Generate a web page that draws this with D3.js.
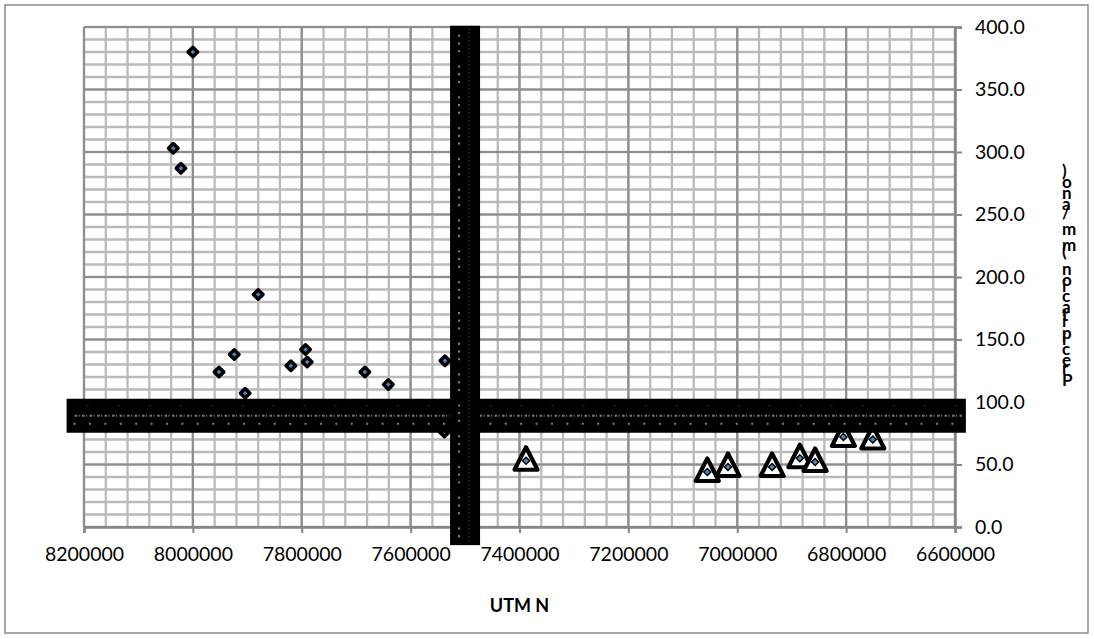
<!DOCTYPE html>
<html>
<head>
<meta charset="utf-8">
<script src="https://cdn.jsdelivr.net/npm/d3@7/dist/d3.min.js"></script>
<style>
  html, body { margin: 0; padding: 0; background: #fff; }
  svg { display: block; font-family: Lato, "Open Sans", "Liberation Sans", sans-serif; }
</style>
</head>
<body>
<svg id="chart" width="1094" height="639"></svg>
<script>
// Stations plotted as diamonds: UTM northing and precipitation (mm/year)
const diamondUTM    = [8000000, 8036000, 8022000, 7880000, 7924000, 7952000, 7904000, 7820000, 7793000, 7790000, 7684000, 7641000, 7537000, 7538000];
const diamondPrecip = [380, 303, 287, 186, 138, 124, 107, 129, 142, 132, 124, 114, 133, 76];

// Stations plotted as triangles
const triangleUTM    = [7388000, 7055000, 7017000, 6936000, 6885000, 6857000, 6805000, 6751000];
const trianglePrecip = [53, 44, 48, 48, 55, 52, 72, 70];

// Reference lines (northing divide and precipitation threshold)
const refUTM = 7500000;
const refPrecip = 89;

// Axis ticks
const xTicks = [8200000, 8000000, 7800000, 7600000, 7400000, 7200000, 7000000, 6800000, 6600000];
const yTicks = [0, 50, 100, 150, 200, 250, 300, 350, 400];

const xTitle = "UTM N";
const yTitle = "Precipitacion (mm/ano)";

const svg = d3.select("#chart");

// outer chart frame
svg.append("rect")
  .attr("x", 5).attr("y", 5).attr("width", 1083).attr("height", 628)
  .attr("fill", "#fff").attr("stroke", "#8a8a8a").attr("stroke-width", 1.5);

const x = d3.scaleLinear().domain([8200000, 6600000]).range([84, 955]);
const y = d3.scaleLinear().domain([0, 400]).range([527, 27]);

// minor grid
const minorX = d3.range(6600000, 8200001, 40000);
const minorY = d3.range(0, 401, 10);
const grid = svg.append("g");
grid.selectAll("line.mx").data(minorX).join("line")
  .attr("x1", d => x(d)).attr("x2", d => x(d)).attr("y1", y(400)).attr("y2", y(0))
  .attr("stroke", "#bababa").attr("stroke-width", 2.3);
grid.selectAll("line.my").data(minorY).join("line")
  .attr("y1", d => y(d)).attr("y2", d => y(d)).attr("x1", x(8200000)).attr("x2", x(6600000))
  .attr("stroke", "#bababa").attr("stroke-width", 2.3);
// major grid
grid.selectAll("line.Mx").data(xTicks).join("line")
  .attr("x1", d => x(d)).attr("x2", d => x(d)).attr("y1", y(400)).attr("y2", y(0))
  .attr("stroke", "#8e8e8e").attr("stroke-width", 2.2);
grid.selectAll("line.My").data(yTicks).join("line")
  .attr("y1", d => y(d)).attr("y2", d => y(d)).attr("x1", x(8200000)).attr("x2", x(6600000))
  .attr("stroke", "#8e8e8e").attr("stroke-width", 2.2);

// bottom axis
const xAxis = d3.axisBottom(x).tickValues(xTicks).tickSize(6).tickPadding(14)
  .tickFormat(d3.format("d"));
const gx = svg.append("g").attr("transform", `translate(0,${y(0)})`).call(xAxis);
gx.select(".domain").attr("stroke", "#868686").attr("stroke-width", 2.5);
gx.selectAll(".tick line").attr("stroke", "#868686").attr("stroke-width", 2);
gx.selectAll(".tick text").attr("font-size", 19.5).attr("fill", "#000")
  .attr("font-family", "Lato, sans-serif");

// right axis
const yAxis = d3.axisRight(y).tickValues(yTicks).tickSize(7).tickPadding(13)
  .tickFormat(d3.format(".1f"));
const gy = svg.append("g").attr("transform", `translate(${x(6600000)},0)`).call(yAxis);
gy.select(".domain").attr("stroke", "#868686").attr("stroke-width", 2.5);
gy.selectAll(".tick line").attr("stroke", "#868686").attr("stroke-width", 2);
gy.selectAll(".tick text").attr("font-size", 19.5).attr("fill", "#000")
  .attr("font-family", "Lato, sans-serif");

// markers
const diamond = "M0,-4.8L4.8,0L0,4.8L-4.8,0Z";
const triangle = "M0,-13.5L11.5,9L-11.5,9Z";

svg.append("g").selectAll("path").data(diamondUTM).join("path")
  .attr("d", diamond)
  .attr("transform", (d, i) => `translate(${x(d)},${y(diamondPrecip[i])})`)
  .attr("fill", "#4f81bd").attr("stroke", "#000").attr("stroke-width", 3.4)
  .attr("stroke-linejoin", "round");

const tri = svg.append("g").selectAll("g").data(triangleUTM).join("g")
  .attr("transform", (d, i) => `translate(${x(d)},${y(trianglePrecip[i])})`);
tri.append("path").attr("d", triangle)
  .attr("fill", "#fff").attr("stroke", "#000").attr("stroke-width", 4.2)
  .attr("stroke-linejoin", "round");
tri.append("path").attr("d", "M0,-3.6L3.6,0L0,3.6L-3.6,0Z")
  .attr("fill", "#4f81bd").attr("stroke", "#000").attr("stroke-width", 1.4);

// thick reference bars
const bars = svg.append("g");
const hx0 = x(8232000), hx1 = x(6580000), hy = y(refPrecip);
bars.append("rect").attr("x", hx0).attr("y", hy - 17).attr("width", hx1 - hx0).attr("height", 34)
  .attr("fill", "#000");
bars.append("line").attr("x1", hx0 + 8).attr("x2", hx1 - 4).attr("y1", hy).attr("y2", hy)
  .attr("stroke", "#7a7a7a").attr("stroke-width", 2.2).attr("stroke-dasharray", "2.5 1.5 1 2.5");
bars.append("line").attr("x1", hx0 + 8).attr("x2", hx1 - 4).attr("y1", hy + 8).attr("y2", hy + 8)
  .attr("stroke", "#707070").attr("stroke-width", 2.4).attr("stroke-linecap", "round")
  .attr("stroke-dasharray", "0 15.4");
bars.append("line").attr("x1", hx0 + 20).attr("x2", hx1 - 4).attr("y1", hy - 10).attr("y2", hy - 10)
  .attr("stroke", "#3a3a3a").attr("stroke-width", 1).attr("stroke-dasharray", "2 29");

const vx = x(refUTM), vy0 = y(401), vy1 = y(-14.5);
bars.append("rect").attr("x", vx - 15).attr("y", vy0).attr("width", 30).attr("height", vy1 - vy0)
  .attr("fill", "#000");
bars.append("line").attr("x1", vx - 6).attr("x2", vx - 6).attr("y1", vy0 + 10).attr("y2", vy1 - 4)
  .attr("stroke", "#7a7a7a").attr("stroke-width", 2.4).attr("stroke-linecap", "round")
  .attr("stroke-dasharray", "0 7.7 0 7.7 0 15.4");
bars.append("line").attr("x1", vx + 4).attr("x2", vx + 4).attr("y1", vy0 + 2).attr("y2", vy1 - 4)
  .attr("stroke", "#3c3c3c").attr("stroke-width", 1).attr("stroke-dasharray", "2 2");

// axis titles
svg.append("text").attr("x", (x.range()[0] + x.range()[1]) / 2).attr("y", 612)
  .attr("text-anchor", "middle").attr("font-weight", "bold").attr("font-size", 18)
  .attr("font-family", "Lato, sans-serif").text(xTitle);

svg.append("text")
  .attr("transform", "translate(1062,386) rotate(-90)")
  .attr("rotate", 90)
  .attr("font-weight", "bold").attr("font-size", 17)
  .attr("font-family", "Lato, sans-serif")
  .attr("textLength", 214).attr("lengthAdjust", "spacing")
  .text(yTitle);
</script>
</body>
</html>
